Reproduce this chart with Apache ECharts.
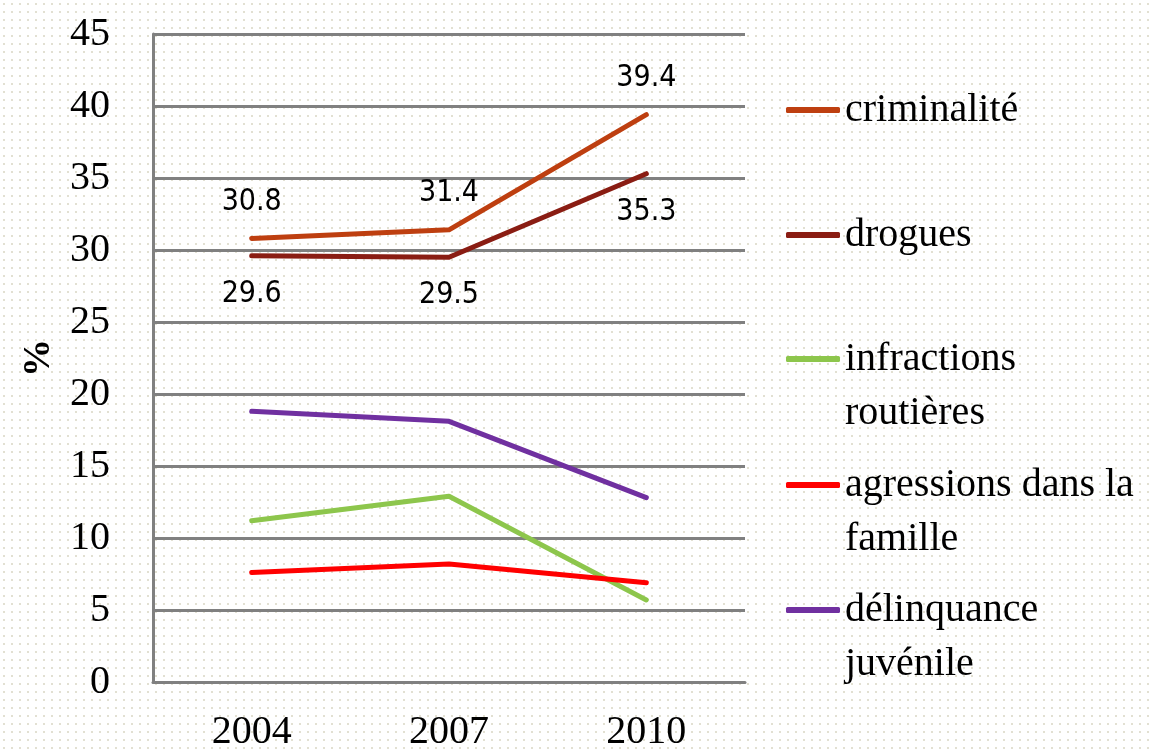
<!DOCTYPE html>
<html>
<head>
<meta charset="utf-8">
<script src="https://cdn.jsdelivr.net/npm/echarts@6/dist/echarts.min.js"></script>
<style>html,body{margin:0;padding:0;background:#fff}#c{width:1151px;height:752px}</style>
</head>
<body>
<div id="c"></div>
<script>
const years = ['2004', '2007', '2010'];
const criminalite = [30.8, 31.4, 39.4];
const drogues = [29.6, 29.5, 35.3];
const infractionsRoutieres = [11.2, 12.9, 5.7];
const agressionsFamille = [7.6, 8.2, 6.9];
const delinquanceJuvenile = [18.8, 18.1, 12.8];
const yTicks = [0, 5, 10, 15, 20, 25, 30, 35, 40, 45];

const names = ['criminalité', 'drogues', 'infractions routières', 'agressions dans la famille', 'délinquance juvénile'];
const legendText = {
  'criminalité': 'criminalité',
  'drogues': 'drogues',
  'infractions routières': '\ninfractions\nroutières',
  'agressions dans la famille': '\nagressions dans la\nfamille',
  'délinquance juvénile': '\ndélinquance\njuvénile'
};
const colors = ['#BE3F10', '#8A1D13', '#8DC64C', '#FF0000', '#7030A0'];

// dotted background pattern
const pc = document.createElement('canvas');
pc.width = 8; pc.height = 8;
const pctx = pc.getContext('2d');
pctx.fillStyle = '#ffffff'; pctx.fillRect(0, 0, 8, 8);
pctx.fillStyle = '#e2e0d2'; pctx.fillRect(3, 3, 2, 2);

const serif = "'Liberation Serif', 'DejaVu Serif', serif";
const sans = "'Liberation Sans Narrow', 'DejaVu Sans Condensed', 'DejaVu Sans', sans-serif";

const chart = echarts.init(document.getElementById('c'));

const iconCenters = [110, 235, 359, 485, 610];
const legends = names.map((n, i) => {
  const multi = legendText[n].startsWith('\n');
  return {
    data: [n],
    orient: 'vertical',
    left: 786,
    top: iconCenters[i] - (multi ? 81 : 27),
    padding: 0,
    icon: 'roundRect',
    itemWidth: 54,
    itemHeight: 6,
    itemGap: 0,
    selectedMode: false,
    formatter: name => legendText[name],
    textStyle: { fontFamily: serif, fontSize: 40, color: '#000', lineHeight: 54 }
  };
});

function mkSeries(name, data, color, labelPos) {
  const s = {
    name: name,
    type: 'line',
    data: data,
    symbol: 'circle',
    symbolSize: 3,
    showSymbol: true,
    itemStyle: { color: color },
    color: color,
    lineStyle: { width: 5, color: color, cap: 'round', join: 'round' },
    animation: false
  };
  if (labelPos) {
    s.label = {
      show: true,
      position: labelPos,
      distance: labelPos === 'top' ? 20 : 22,
      fontFamily: sans,
      fontSize: 30,
      color: '#000',
      formatter: p => Number(p.value).toFixed(1)
    };
  }
  return s;
}

chart.setOption({
  backgroundColor: { image: pc, repeat: 'repeat' },
  animation: false,
  legend: legends,
  grid: { left: 153, right: 406, top: 34, bottom: 70, containLabel: false, outerBoundsMode: 'none' },
  xAxis: {
    type: 'category',
    data: years,
    boundaryGap: true,
    axisLine: { show: true, lineStyle: { color: '#808080', width: 3 } },
    axisTick: { show: false },
    axisLabel: { fontFamily: serif, fontSize: 40, color: '#000', margin: 30 }
  },
  yAxis: {
    type: 'value',
    min: yTicks[0],
    max: yTicks[yTicks.length - 1],
    interval: 5,
    name: '%',
    nameLocation: 'middle',
    nameRotate: 90,
    nameGap: 95,
    nameTextStyle: { fontFamily: serif, fontSize: 38, fontWeight: 'bold', color: '#000' },
    axisLine: { show: true, lineStyle: { color: '#808080', width: 3 } },
    axisTick: { show: false },
    splitLine: { show: true, lineStyle: { color: '#808080', width: 3 } },
    axisLabel: { fontFamily: serif, fontSize: 40, color: '#000', margin: 43 }
  },
  series: [
    mkSeries(names[0], criminalite, colors[0], 'top'),
    mkSeries(names[1], drogues, colors[1], 'bottom'),
    mkSeries(names[2], infractionsRoutieres, colors[2]),
    mkSeries(names[3], agressionsFamille, colors[3]),
    mkSeries(names[4], delinquanceJuvenile, colors[4])
  ]
});
</script>
</body>
</html>
